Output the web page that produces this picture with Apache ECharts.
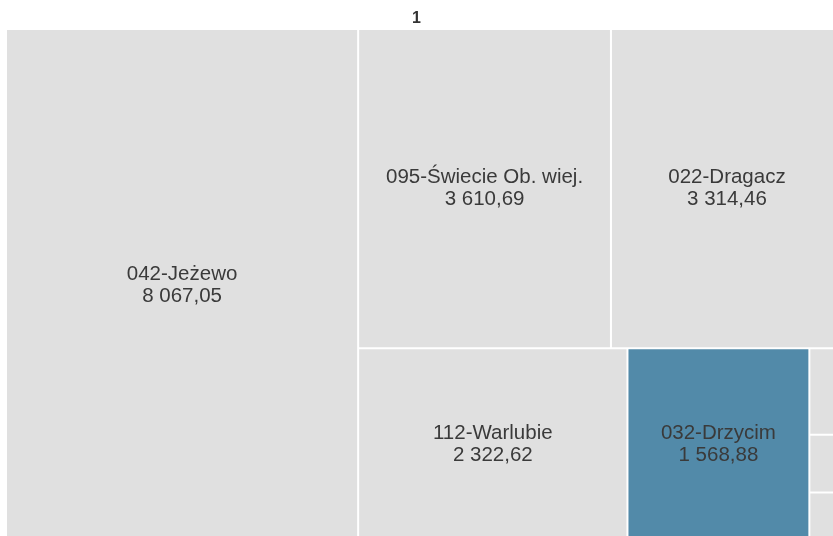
<!DOCTYPE html>
<html>
<head>
<meta charset="utf-8">
<script src="https://cdn.jsdelivr.net/npm/echarts@6/dist/echarts.min.js"></script>
<style>
  html, body { margin: 0; padding: 0; background: #fff; }
  #chart { width: 833px; height: 536px; }
</style>
</head>
<body>
<div id="chart"></div>
<script>
// gminy + values (last three are small, mostly cut off on the right)
var names = ['042-Jeżewo', '095-Świecie Ob. wiej.', '022-Dragacz', '112-Warlubie', '032-Drzycim', 'a', 'b', 'c'];
var values = [8067.05, 3610.69, 3314.46, 2322.62, 1568.88, 130, 87, 73];
var highlighted = '032-Drzycim';

function fmt(v) {
    var parts = v.toFixed(2).split('.');
    return parts[0].replace(/\B(?=(\d{3})+(?!\d))/g, ' ') + ',' + parts[1];
}

var data = names.map(function (n, i) {
    var item = { name: n, value: values[i] };
    if (n === highlighted) {
        item.itemStyle = { color: '#528aa9' };
    }
    return item;
});

var chart = echarts.init(document.getElementById('chart'));
chart.setOption({
    animation: false,
    title: {
        text: '1',
        left: 'center',
        top: 6,
        textStyle: { fontSize: 16, fontWeight: 'bold', color: '#333', fontFamily: 'Liberation Sans' }
    },
    series: [{
        type: 'treemap',
        left: 7,
        top: 30,
        width: 835,
        height: 510,
        roam: false,
        nodeClick: false,
        squareRatio: 1,
        breadcrumb: { show: false },
        label: {
            show: true,
            position: 'inside',
            align: 'center',
            verticalAlign: 'middle',
            color: '#3a3a3a',
            fontSize: 20.5,
            lineHeight: 22,
            fontFamily: 'Liberation Sans',
            formatter: function (p) {
                return p.name.length > 2 ? p.name + '\n' + fmt(p.value) : '';
            }
        },
        itemStyle: {
            color: '#e0e0e0',
            borderWidth: 0,
            gapWidth: 2
        },
        levels: [{
            itemStyle: { borderWidth: 0, gapWidth: 2, color: '#e0e0e0' }
        }],
        data: data
    }]
});
</script>
</body>
</html>
